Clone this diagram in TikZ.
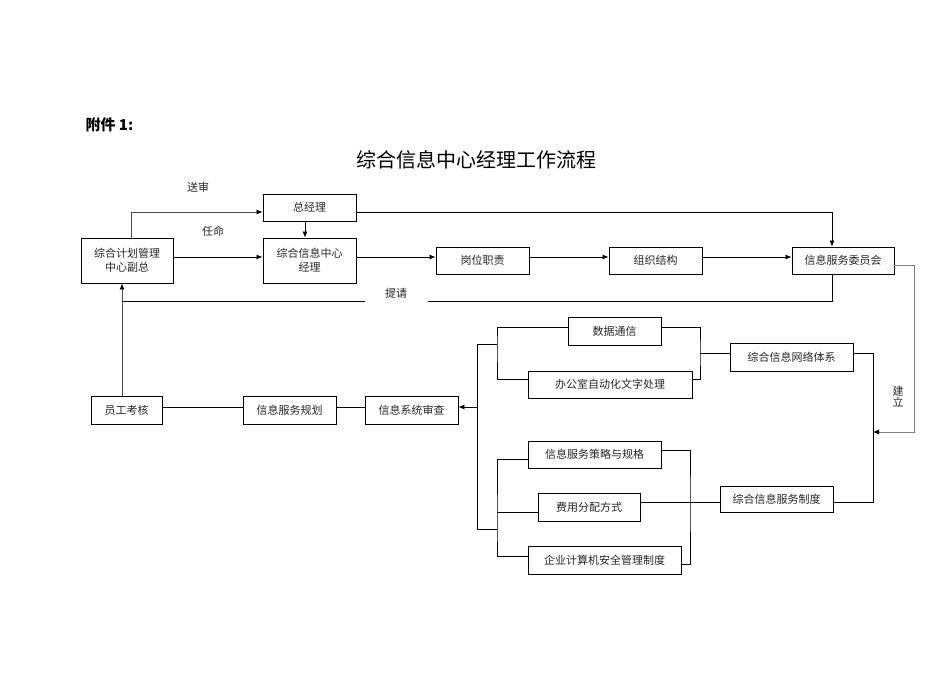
\documentclass[tikz,border=0pt]{standalone}
\usepackage{fontspec}
\setmainfont{Noto Sans CJK SC}
\usetikzlibrary{arrows.meta}
\begin{document}
\begin{tikzpicture}[x=1pt, y=-1pt,
		box/.style={draw, line width=0.9pt, minimum height=27pt, inner sep=1pt, align=center, font=\fontsize{11}{14}\selectfont, text=black!85},
		line/.style={line width=0.8pt},
		arr/.style={line, -{Latex[length=6pt, width=5pt, color=black]}},
		lbl/.style={inner sep=0pt, align=center, font=\fontsize{11}{12}\selectfont, text=black!85}]
		\useasboundingbox (0,0) rectangle (950,672);
		\node[anchor=west, font=\fontsize{15}{18}\selectfont\bfseries] (fujian) at (82,125) {附件 1:};
		\node[font=\fontsize{20}{24}\selectfont] (title) at (476,160) {综合信息中心经理工作流程};
		\node[box, minimum width=93pt] (zjl) at (309.5,207.5) {总经理};
		\node[box, minimum width=92pt, minimum height=45pt] (fz) at (127,260.5) {综合计划管理\\中心副总};
		\node[box, minimum width=93pt, minimum height=45pt] (zxjl) at (309.5,260.5) {综合信息中心\\经理};
		\node[box, minimum width=93pt] (gwzz) at (482.5,260.5) {岗位职责};
		\node[box, minimum width=93pt] (zzjg) at (655.5,260.5) {组织结构};
		\node[box, minimum width=102pt] (fwwyh) at (843,260.5) {信息服务委员会};
		\node[box, minimum width=93pt, minimum height=28pt] (sjtx) at (614.5,331) {数据通信};
		\node[box, minimum width=164pt] (bgzdh) at (610,384.5) {办公室自动化文字处理};
		\node[box, minimum width=123pt, minimum height=28pt] (wltx) at (791.5,357) {综合信息网络体系};
		\node[box, minimum width=133pt] (clgg) at (594.5,454.5) {信息服务策略与规格};
		\node[box, minimum width=102pt, minimum height=28pt] (fyfp) at (589,507) {费用分配方式};
		\node[box, minimum width=153pt, minimum height=28pt] (aqzd) at (604.5,560) {企业计算机安全管理制度};
		\node[box, minimum width=113pt, minimum height=26pt] (fwzd) at (776.5,499) {综合信息服务制度};
		\node[box, minimum width=71pt, minimum height=28pt] (ygkh) at (126.5,410) {员工考核};
		\node[box, minimum width=93pt, minimum height=28pt] (fwgh) at (289.5,410) {信息服务规划};
		\node[box, minimum width=93pt, minimum height=28pt] (xtsc) at (411.5,410) {信息系统审查};
		\node[lbl] (songshen) at (198,187) {送审};
		\node[lbl] (renming) at (213,231) {任命};
		\node[lbl] (tiqing) at (396,293) {提请};
		\node[lbl, font=\fontsize{11}{11}\selectfont] (jianli) at (898,397) {建\\立};
		\coordinate (tqr) at (428,301);
		\coordinate (tql) at (365,301);
		\coordinate (jn) at (122,301);
		\coordinate (jlc) at (914,432);
		\coordinate (jlend) at (873,432);
		\coordinate (ubl) at (497,344);
		\coordinate (ubr) at (700,353);
		\coordinate (lbl) at (497,529);
		\coordinate (lbr) at (690,500);
		\coordinate (obx) at (477,407);
		\draw[arr, black!70] ([xshift=4pt]fz.north) |- ([yshift=-4.5pt]zjl.west);
		\draw[arr] ([xshift=-4.5pt]zjl.south) -- ([xshift=-4.5pt]zxjl.north);
		\draw[arr] ([yshift=3.5pt]fz.east) -- ([yshift=3.5pt]zxjl.west);
		\draw[arr] ([yshift=3.5pt]zxjl.east) -- ([yshift=3.5pt]gwzz.west);
		\draw[arr] ([yshift=3.5pt]gwzz.east) -- ([yshift=3.5pt]zzjg.west);
		\draw[arr] ([yshift=3.5pt]zzjg.east) -- ([yshift=3.5pt]fwwyh.west);
		\draw[arr] ([yshift=-4.5pt]zjl.east) -| ([xshift=-11pt]fwwyh.north);
		\draw[line] ([xshift=-11pt]fwwyh.south) |- (tqr);
		\draw[line] (tql) -- (jn);
		\draw[arr, black!70] (ygkh.north -| jn) -- (fz.south -| jn);
		\draw[line] ([yshift=3pt]ygkh.east) -- ([yshift=3pt]fwgh.west);
		\draw[line] ([yshift=3pt]fwgh.east) -- ([yshift=3pt]xtsc.west);
		\draw[arr, black!50] ([yshift=-4.5pt]fwwyh.east) -| (jlc) -- (jlend);
		\draw[line] ([yshift=4pt]wltx.east) -| (jlend) |- ([yshift=-3pt]fwzd.east);
		\draw[line] ([yshift=4pt]sjtx.west) -| (ubl) |- ([yshift=5.5pt]bgzdh.west);
		\draw[line] ([yshift=4pt]sjtx.east) -| (ubr) |- ([yshift=5.5pt]bgzdh.east);
		\draw[line] (ubr) -- ([yshift=4pt]wltx.west);
		\draw[line] ([yshift=-4.5pt]clgg.west) -| (lbl) |- ([yshift=4pt]aqzd.west);
		\draw[line] ([yshift=-5pt]fyfp.west) -- ([yshift=-5pt]fyfp.west -| lbl);
		\draw[line] ([yshift=4.5pt]clgg.east) -| (lbr) |- ([yshift=-4pt]aqzd.east);
		\draw[line] ([yshift=5pt]fyfp.east) -- ([yshift=-3pt]fwzd.west);
		\draw[line] (ubl) -- (ubl -| obx) -- (lbl -| obx) -- (lbl);
		\draw[arr] (obx) -- ([yshift=3pt]xtsc.east);
	\end{tikzpicture}
\end{document}
